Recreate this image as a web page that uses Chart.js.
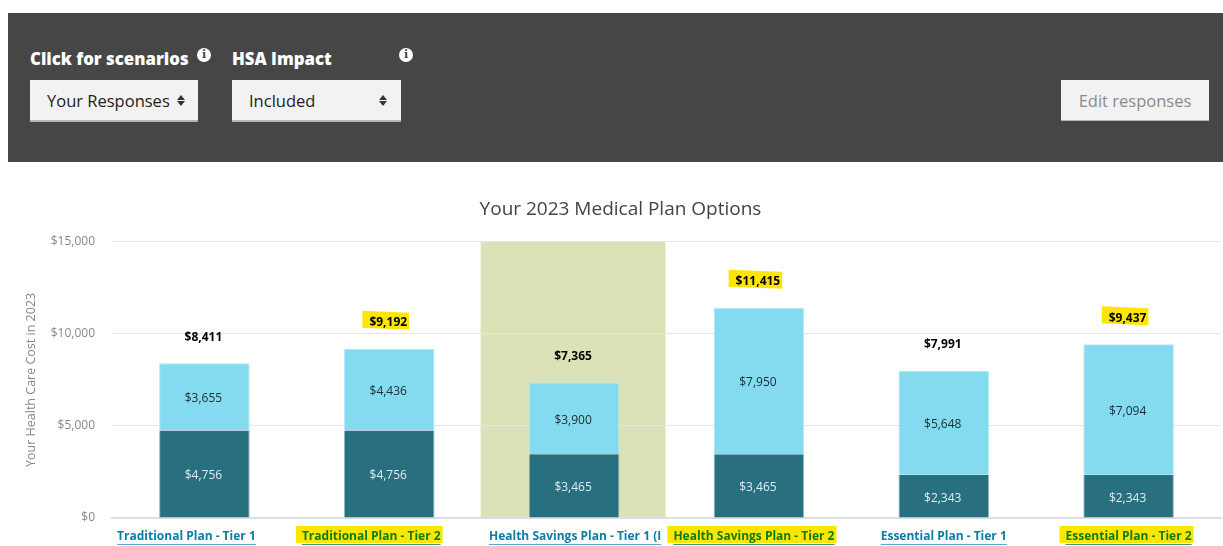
<!DOCTYPE html>
<html>
<head>
<meta charset="utf-8">
<title>Your 2023 Medical Plan Options</title>
<script src="https://cdn.jsdelivr.net/npm/chart.js@4"></script>
<style>
    html, body { margin: 0; padding: 0; background: #fff; overflow: hidden; }
    body { width: 1223px; height: 546px; position: relative; font-family: "Open Sans", sans-serif; }
    #panel { position: absolute; left: 8px; top: 13px; right: 0; height: 149px; background: #464646; }
    .lbl { position: absolute; color: #fff; font-weight: 800; font-size: 16.8px; top: 34px; white-space: nowrap; }
    .info { position: absolute; top: 35px; width: 14px; height: 14px; border-radius: 50%; background: #fff; color: #464646;
        font: 700 11px/14px "DejaVu Serif", serif; text-align: center; }
    .sel { position: absolute; top: 67px; height: 40px; background: #f2f2f2; border-bottom: 2px solid #b5b5b5; color: #222;
        font-size: 16.5px; line-height: 41px; box-sizing: content-box; white-space: nowrap; }
    .sel span { position: absolute; left: 17px; }
    .arrows { position: absolute; top: 15px; width: 8px; height: 11px; }
    .arrows::before, .arrows::after { content: ''; position: absolute; left: 0; border-left: 4px solid transparent; border-right: 4px solid transparent; }
    .arrows::before { top: 0; border-bottom: 5px solid #333; }
    .arrows::after { bottom: 0; border-top: 5px solid #333; }
    #edit { position: absolute; left: 1053px; top: 67px; width: 148px; height: 41px; background: #f2f2f2; color: #8a8a8a;
        font-size: 16.5px; line-height: 41px; text-align: center; border-bottom: 1px solid #b5b5b5; box-sizing: border-box; }
    #chart-wrap { position: absolute; left: 0; top: 162px; width: 1223px; height: 384px; }
</style>
</head>
<body>
<div id="panel">
    <div class="lbl" style="left:22px">Click for scenarios</div>
    <div class="info" style="left:189px">i</div>
    <div class="lbl" style="left:224px">HSA Impact</div>
    <div class="info" style="left:391px">i</div>
    <div class="sel" style="left:22px;width:168px"><span>Your Responses</span><i class="arrows" style="left:147px"></i></div>
    <div class="sel" style="left:224px;width:169px"><span>Included</span><i class="arrows" style="left:147px"></i></div>
    <div id="edit">Edit responses</div>
</div>
<div id="chart-wrap"><canvas id="plan-chart" width="1223" height="384"></canvas></div>

<script>
const planNames = ['Traditional Plan - Tier 1', 'Traditional Plan - Tier 2', 'Health Savings Plan - Tier 1 (I', 'Health Savings Plan - Tier 2', 'Essential Plan - Tier 1', 'Essential Plan - Tier 2'];
const darkValues = [4756, 4756, 3465, 3465, 2343, 2343];
const lightValues = [3655, 4436, 3900, 7950, 5648, 7094];
const totals = [8411, 9192, 7365, 11415, 7991, 9437];
const yTicks = [0, 5000, 10000, 15000];
const bandIndex = 2;
const markedPlans = [1, 3, 5];
const labelShift = [-18, -18, 1, -5, 0, 0];

const money = v => '$' + Number(v).toLocaleString('en-US');
const FONT = '"Open Sans", sans-serif';

function marker(ctx, x0, x1, y0, y1, tilt) {
    ctx.fillStyle = '#ffe600';
    ctx.beginPath();
    ctx.moveTo(x0, y0);
    ctx.lineTo(x1, y0 + tilt);
    ctx.lineTo(x1, y1 + tilt);
    ctx.lineTo(x0, y1);
    ctx.closePath();
    ctx.fill();
}

// band sits under the grid, so the grid lines still show through it
const bandPlugin = {
    id: 'band',
    beforeDraw(chart) {
        const { ctx, scales: { x, y } } = chart;
        const half = (x.getPixelForValue(1) - x.getPixelForValue(0)) / 2;
        const mid = x.getPixelForValue(bandIndex) - 1;
        ctx.save();
        ctx.fillStyle = '#dbe2b7';
        ctx.fillRect(mid - half, y.getPixelForValue(15000), half * 2, y.getPixelForValue(0) - y.getPixelForValue(15000));
        ctx.restore();
    }
};

const labelsPlugin = {
    id: 'barLabels',
    afterDatasetsDraw(chart) {
        const { ctx, scales: { x, y } } = chart;
        ctx.save();
        ctx.textAlign = 'center';
        ctx.textBaseline = 'middle';

        // segment values
        ctx.font = '12px ' + FONT;
        chart.data.datasets.forEach((ds, d) => {
            ctx.fillStyle = d === 0 ? '#dfeef2' : '#1c2b30';
            chart.getDatasetMeta(d).data.forEach((bar, i) => {
                ctx.fillText(money(ds.data[i]), bar.x - 1, (bar.y + bar.base) / 2 + 2);
            });
        });

        // totals above each stack
        ctx.font = 'bold 12px ' + FONT;
        totals.forEach((t, i) => {
            const cx = x.getPixelForValue(i) - 1;
            const top = y.getPixelForValue(t);
            if (markedPlans.includes(i)) {
                const w = ctx.measureText(money(t)).width;
                marker(ctx, cx - w / 2 - 7, cx + w / 2 + 2, top - 38, top - 21, 2);
            }
            ctx.fillStyle = '#000';
            ctx.fillText(money(t), cx, top - 26);
        });

        // plan names, styled as links
        const nameY = y.getPixelForValue(0) + 19;
        planNames.forEach((name, i) => {
            const cx = x.getPixelForValue(i) + labelShift[i];
            const w = ctx.measureText(name).width;
            const marked = markedPlans.includes(i);
            if (marked) marker(ctx, cx - w / 2 - 6, cx + w / 2 + 2, nameY - 11, nameY + 6, 0);
            ctx.fillStyle = marked ? '#0b7d12' : '#0a7ea4';
            ctx.fillText(name, cx, nameY);
            ctx.strokeStyle = marked ? '#3f9a63' : '#5aa9c6';
            ctx.lineWidth = 1;
            ctx.beginPath();
            ctx.moveTo(cx - w / 2, nameY + 7.5);
            ctx.lineTo(cx + w / 2, nameY + 7.5);
            ctx.stroke();
        });
        ctx.restore();
    }
};

new Chart(document.getElementById('plan-chart'), {
    type: 'bar',
    data: {
        labels: planNames,
        datasets: [
            { label: 'Employee cost', data: darkValues, backgroundColor: '#286f80', borderColor: '#8fb6c1', borderWidth: { top: 0, left: 1, right: 1, bottom: 0 } },
            { label: 'Premium', data: lightValues, backgroundColor: '#84dbef', borderColor: '#b5e9f5', borderWidth: 1, borderSkipped: 'bottom' }
        ]
    },
    options: {
        responsive: false,
        animation: false,
        barPercentage: 0.49,
        categoryPercentage: 1,
        layout: { padding: { top: 36, right: 2, bottom: 0, left: 20 } },
        plugins: {
            legend: { display: false },
            tooltip: { enabled: false },
            title: {
                display: true,
                text: 'Your 2023 Medical Plan Options',
                color: '#444',
                font: { family: FONT, size: 19, weight: 'normal' },
                padding: { top: 0, bottom: 21 }
            }
        },
        scales: {
            x: {
                stacked: true,
                afterFit(scale) { scale.height = 28; },
                grid: { display: false },
                border: { color: '#d8dfe8', width: 2 },
                ticks: { display: false }
            },
            y: {
                stacked: true,
                min: 0,
                max: 15000,
                afterFit(scale) { scale.width = 92; },
                afterBuildTicks(scale) { scale.ticks = yTicks.map(value => ({ value })); },
                grid: { color: '#e6e6e6', drawTicks: false },
                border: { display: false },
                ticks: {
                    color: '#888',
                    padding: 17,
                    font: { family: FONT, size: 12 },
                    callback: v => money(v)
                },
                title: {
                    display: true,
                    text: 'Your Health Care Cost in 2023',
                    color: '#888',
                    font: { family: FONT, size: 12.5 }
                }
            }
        }
    },
    plugins: [bandPlugin, labelsPlugin]
});
</script>
</body>
</html>
